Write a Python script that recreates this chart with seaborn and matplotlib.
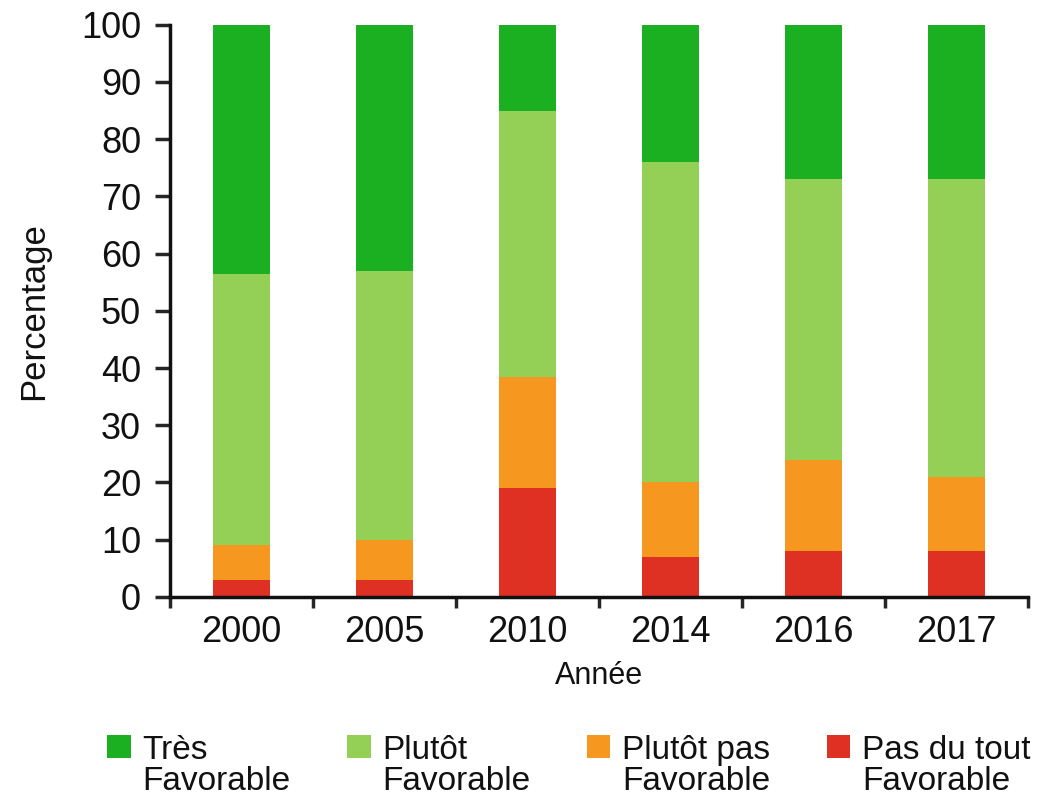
import numpy as np
import pandas as pd
import seaborn as sns
import matplotlib.pyplot as plt
from matplotlib.patches import Patch
from matplotlib.ticker import MultipleLocator

# %% data (percent per answer, per survey year)
years = ["2000", "2005", "2010", "2014", "2016", "2017"]
pas_du_tout = [3, 3, 19, 7, 8, 8]
plutot_pas = [6, 7, 19.5, 13, 16, 13]
plutot = [47.5, 47, 46.5, 56, 49, 52]
tres = [43.5, 43, 15, 24, 27, 27]

labels = ["Très\nFavorable", "Plutôt\nFavorable", "Plutôt pas\nFavorable", "Pas du tout\nFavorable"]
colors = ["#1ab022", "#95d056", "#f69820", "#de3023"]

# %% stack: draw cumulative totals from top layer down
df = pd.DataFrame({"Année": years, "red": pas_du_tout, "orange": plutot_pas,
                   "light": plutot, "dark": tres})
df["c_red"] = df["red"]
df["c_orange"] = df["c_red"] + df["orange"]
df["c_light"] = df["c_orange"] + df["light"]
df["c_dark"] = df["c_light"] + df["dark"]

sns.set_style("white")
plt.rcParams["font.family"] = ["Liberation Sans", "DejaVu Sans"]

fig = plt.figure(figsize=(10.38, 7.99), dpi=100)
ax = fig.add_axes([0.164, 0.253, 0.826, 0.716])

for col, c in zip(["c_dark", "c_light", "c_orange", "c_red"], colors):
    sns.barplot(data=df, x="Année", y=col, color=c, width=0.4,
                saturation=1, ax=ax, linewidth=0)

ax.set_xlim(-0.5, 5.5)
ax.set_ylim(0, 100)
ax.yaxis.set_major_locator(MultipleLocator(10))
ax.set_ylabel("Percentage", fontsize=25, labelpad=22, color="#111111")
ax.set_xlabel("Année", fontsize=22, labelpad=8, color="#111111")

ax.tick_params(axis="y", labelsize=26, length=11, width=2.5, direction="out",
               left=True, pad=10, labelcolor="#111111")
ax.tick_params(axis="x", which="major", labelsize=26, length=0, pad=13,
               labelcolor="#111111")
ax.set_xticks(np.arange(-0.5, 6, 1), minor=True)
ax.tick_params(axis="x", which="minor", length=8, width=2.5, bottom=True, direction="out")

for s in ["top", "right"]:
    ax.spines[s].set_visible(False)
for s in ["left", "bottom"]:
    ax.spines[s].set_linewidth(2.5)
    ax.spines[s].set_color("#111111")

# %% legend below the plot
handles = [Patch(facecolor=c, edgecolor="none") for c in colors]
leg = fig.legend(handles, labels, loc="upper center", bbox_to_anchor=(0.548, 0.080),
                 ncol=4, frameon=False, fontsize=24, handlelength=0.7,
                 handleheight=0.7, handletextpad=0.35, columnspacing=1.7,
                 borderpad=0, borderaxespad=0, labelspacing=0.1)
for t in leg.get_texts():
    t.set_color("#111111")
    t.set_linespacing(1.0)
for column in leg._legend_handle_box.get_children():
    for item in column.get_children():
        item.align = "top"

fig.savefig("out.png", dpi=100)
